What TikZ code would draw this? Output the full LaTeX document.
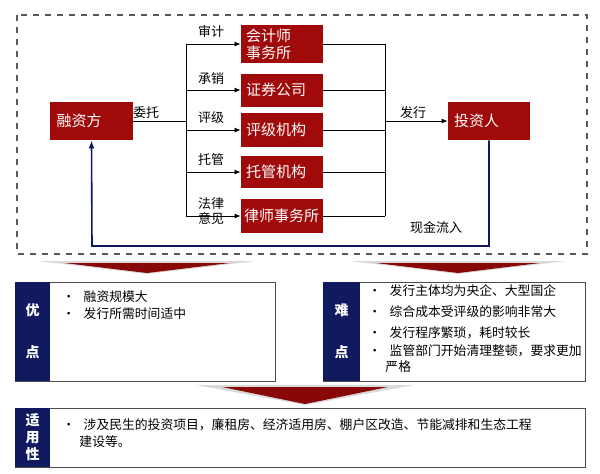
\documentclass[tikz,border=0pt]{standalone}
\usepackage{fontspec}
\setmainfont{Noto Sans CJK SC}
\usetikzlibrary{arrows.meta}
\definecolor{boxred}{HTML}{A00A0A}
\definecolor{navy}{HTML}{111A5E}
\tikzset{
  redbox/.style={fill=boxred, text=white, inner sep=0pt, font=\fontsize{7.5}{8.5}\selectfont, align=left},
  lbl/.style={font=\fontsize{6.5}{7.5}\selectfont, align=left, inner sep=0pt},
  bullets/.style={font=\fontsize{6.4}{8.8}\selectfont, align=left, anchor=north west, inner sep=0pt},
  side/.style={font=\fontsize{7}{9}\selectfont\bfseries, text=white, align=center, inner sep=0pt},
  panel/.style={draw=gray!60!black, fill=white},
  link/.style={-{Latex[length=3pt,width=2.5pt]}},
}
\newcommand{\chevron}[4]{% x1, x2, ytop, ybottom
  \fill[gray!30] (#1,#3-2) -- (#2,#3-2) -- ({(#1+#2)/2},#4+1) -- cycle;
  \fill[boxred!85!black] ({#1+0.12*(#2-#1)},#3) -- ({#2-0.12*(#2-#1)},#3) -- ({(#1+#2)/2},#4) -- cycle;
}
\begin{document}
\begin{tikzpicture}[x=0.5pt,y=-0.5pt]
\useasboundingbox (0,0) rectangle (600,473);
% outer frame
\draw[dashed, gray!70!black, thick] (17,15) rectangle (587,254);
% main parties
\node[redbox, minimum width=83*0.5pt, minimum height=38*0.5pt, text width=70*0.5pt] (rzf) at (91.5,121) {融资方};
\node[redbox, minimum width=82*0.5pt, minimum height=38*0.5pt, text width=70*0.5pt] (tzr) at (489,121) {投资人};
% intermediaries
\node[redbox, minimum width=82*0.5pt, minimum height=38*0.5pt, text width=72*0.5pt] (kjs) at (282,44) {会计师\\事务所};
\node[redbox, minimum width=82*0.5pt, minimum height=33*0.5pt, text width=72*0.5pt] (zqgs) at (282,90) {证券公司};
\node[redbox, minimum width=82*0.5pt, minimum height=34*0.5pt, text width=72*0.5pt] (pjjg) at (282,130) {评级机构};
\node[redbox, minimum width=82*0.5pt, minimum height=32*0.5pt, text width=72*0.5pt] (tgjg) at (282,172) {托管机构};
\node[redbox, minimum width=82*0.5pt, minimum height=34*0.5pt, text width=76*0.5pt] (lsws) at (282,216) {律师事务所};
% bus coordinates
\coordinate (lbus) at (186,121);
\coordinate (rbus) at (385,121);
\draw (rzf.east) -- (lbus);
\draw (186,44) -- (186,216);
\draw (385,44) -- (385,216);
\foreach \b in {kjs,zqgs,pjjg,tgjg,lsws}{
  \draw[link] (186,0 |- \b.west) -- (\b.west);
  \draw (\b.east) -- (385,0 |- \b.east);
}
\draw[link] (rbus) -- (tzr.west);
% cash flow back
\draw[navy, thick, -{Latex[length=4pt,width=3pt]}] (tzr.south) |- (92,246) -- (rzf.south);
% labels
\node[lbl] (lwt) at (146,113) {委托};
\node[lbl] (lsj) at (211,32) {审计};
\node[lbl] (lcx) at (211,79) {承销};
\node[lbl] (lpj) at (211,118) {评级};
\node[lbl] (ltg) at (211,160) {托管};
\node[lbl] (lfl) at (211,211) {法律\\意见};
\node[lbl] (lfx) at (413,113) {发行};
\node[lbl] (lxj) at (436,228) {现金流入};
% chevrons
\chevron{38}{256}{263}{273}
\chevron{350}{566}{263}{273}
\chevron{196}{414}{387}{404}
% advantage box
\draw[panel] (15,282) rectangle (275,381);
\fill[navy] (15,282) rectangle (50,381);
\node[side] (yd) at (32.5,331) {优\\[12pt]点};
\node[bullets, text width=210*0.5pt] (ydtxt) at (62,290) {•\ \ 融资规模大\\•\ \ 发行所需时间适中};
% difficulty box
\draw[panel] (323,282) rectangle (585,381);
\fill[navy] (323,282) rectangle (360,381);
\node[side] (nd) at (341.5,331) {难\\[12pt]点};
\node[bullets, text width=222*0.5pt, font=\fontsize{6.4}{10.6}\selectfont] (ndtxt) at (368,284) {•\ \ 发行主体均为央企、大型国企\\•\ \ 综合成本受评级的影响非常大\\•\ \ 发行程序繁琐，耗时较长\\[-1.5pt]•\ \ 监管部门开始清理整顿，要求更加\\[-3pt]\hspace*{0pt}\ \ \ \ 严格};
% application box
\draw[panel] (15,408) rectangle (585,467);
\fill[navy] (15,408) rectangle (50,467);
\node[side, font=\fontsize{7}{8.5}\selectfont\bfseries] (syx) at (32.5,437.5) {适\\用\\性};
\node[bullets, text width=500*0.5pt] (syxtxt) at (62,418) {•\ \ 涉及民生的投资项目，廉租房、经济适用房、棚户区改造、节能减排和生态工程\\\hspace*{0pt}\ \ \ \ 建设等。};
\end{tikzpicture}
\end{document}
